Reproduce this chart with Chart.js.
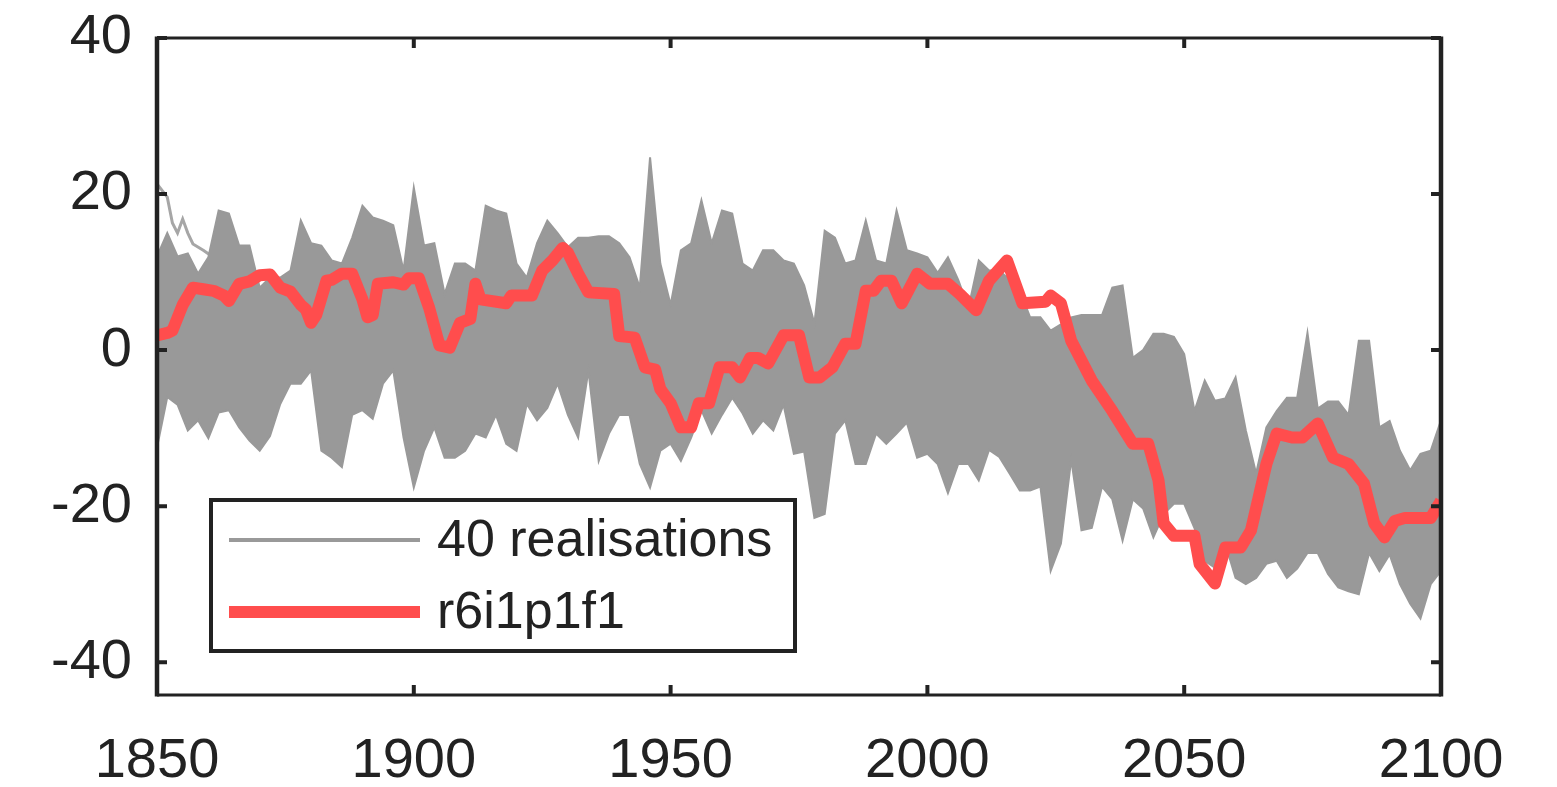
<!DOCTYPE html>
<html>
<head>
<meta charset="utf-8">
<script src="https://cdn.jsdelivr.net/npm/chart.js@4.4.1/dist/chart.umd.min.js"></script>
<style>
  html, body { margin: 0; padding: 0; background: #fff; }
  #wrap { width: 1557px; height: 787px; }
</style>
</head>
<body>
<div id="wrap"><canvas id="c" width="1557" height="787"></canvas></div>
<script>
// envelope of the 40 realisations, read every 2 years
const bandYears = [];
for (let yr = 1850; yr <= 2100; yr += 2) bandYears.push(yr);
const bandUpper = [
  12, 15, 12, 12.4, 9.8, 11.9, 17.9, 17.5, 13.4, 13.4,
  8, 9.3, 9.3, 10.2, 16.6, 13.7, 13.4, 11.5, 11.1, 14.4,
  18.5, 17, 16.6, 16, 10.2, 20.8, 13.4, 13.7, 7.2, 11.1,
  11.1, 10.2, 18.5, 17.9, 17.5, 11.1, 9.3, 13.7, 16.6, 15,
  13.2, 14.4, 14.4, 14.6, 14.6, 13.7, 11.9, 8, 24.7, 11.1,
  5.8, 12.8, 13.7, 19.2, 13.7, 17.9, 17.5, 11.1, 10.2, 12.8,
  12.8, 11.5, 11.1, 8.3, 3.4, 15.3, 14.4, 11.1, 11.5, 16.6,
  11.5, 11.1, 17.9, 12.8, 12.4, 11.9, 9.9, 11.9, 9, 5.4,
  11.5, 10.2, 10.2, 9, 7.6, 4.2, 4.2, 2.5, 3.3, 4.2,
  4.5, 4.5, 4.5, 8, 8.3, -1, 0, 2.1, 2.1, 1.7,
  -0.5, -7.8, -3.9, -6.5, -6.2, -3.5, -10.3, -15.8, -9.9, -7.8,
  -6.1, -6.1, 2.2, -7.5, -6.6, -6.6, -8.3, 1.2, 1.2, -9.9,
  -9.1, -12.9, -15.4, -13.3, -12.9, -9
];
const bandLower = [
  -12.5, -6, -7, -10.3, -9, -11.3, -8, -7.7, -9.9, -11.6,
  -12.9, -11, -6.9, -4.3, -4.3, -2.6, -12.9, -13.8, -15, -8.3,
  -7.7, -8.8, -4.3, -2.6, -11.2, -17.6, -12.9, -9.9, -13.8, -13.8,
  -12.9, -10.7, -11.2, -8.3, -12, -12.9, -6.9, -9, -7.4, -4.3,
  -8.3, -11.2, -2.6, -14.2, -10.7, -8.3, -8.3, -14.6, -17.6, -12.9,
  -12, -14.2, -11.2, -7.7, -10.7, -8.3, -6.1, -8.1, -10.7, -9,
  -10.3, -7, -13.3, -13, -21.5, -21, -10.7, -9, -14.6, -14.6,
  -10.7, -12, -10.7, -9.3, -13.8, -13.3, -14.6, -18.3, -14.6, -14.6,
  -16.7, -12.8, -13.7, -15.8, -18, -18, -17.5, -28.3, -24.8, -14,
  -23.1, -22.8, -17.5, -19.1, -24.4, -19.1, -20.3, -24, -21, -19.7,
  -19.7, -22.8, -27, -27.9, -24.8, -29.2, -30, -29.2, -27.4, -27,
  -29.2, -28, -26, -26, -28.7, -30.4, -30.9, -31.3, -26, -28.3,
  -26.2, -30, -32.5, -34.4, -30, -28.3
];

// one realisation that shows above the band at the start
const thinYears = [1850, 1852, 1853, 1854, 1855, 1856, 1857, 1859, 1861, 1863];
const thinValues = [21.3, 19.6, 16.3, 15, 16.8, 15, 13.6, 12.8, 11.9, 11.5];

// r6i1p1f1
const redYears = [
  1850, 1852, 1853, 1855, 1857, 1859, 1861, 1863, 1864, 1866,
  1868, 1870, 1872, 1874, 1876, 1878, 1879, 1880, 1881, 1883,
  1884, 1886, 1888, 1890, 1891, 1892, 1893, 1896, 1898, 1899,
  1901, 1903, 1905, 1907, 1909, 1911, 1912, 1913, 1918, 1919,
  1923, 1925, 1927, 1929, 1930, 1932, 1934, 1939, 1940, 1943,
  1945, 1947, 1948, 1950, 1952, 1954, 1955.5, 1957.5, 1959.5, 1962,
  1963.5, 1965.5, 1967, 1969, 1972, 1975, 1977, 1979, 1981.5, 1984,
  1986, 1988, 1989.5, 1991, 1993, 1995, 1998, 2000.5, 2004, 2006.3,
  2009.5, 2012, 2015.5, 2018.5, 2023, 2024, 2026, 2028, 2032, 2036,
  2040, 2043, 2045, 2046, 2048, 2052, 2053, 2056, 2058, 2061,
  2063, 2066, 2068, 2071, 2073, 2076, 2079, 2082, 2085, 2087,
  2089, 2091, 2093, 2098, 2100
];
const redValues = [
  1.9, 2.2, 2.5, 5.8, 8.0, 7.8, 7.6, 7.0, 6.3, 8.5,
  8.8, 9.6, 9.7, 8.0, 7.5, 5.8, 5.2, 3.5, 4.5, 8.9,
  9.0, 9.8, 9.8, 6.5, 4.2, 4.5, 8.5, 8.7, 8.4, 9.2,
  9.2, 5.4, 0.6, 0.3, 3.5, 4.0, 8.5, 6.5, 6.0, 7.0,
  7.0, 10.2, 11.5, 13.1, 12.5, 9.8, 7.4, 7.2, 1.8, 1.6,
  -2.2, -2.5, -5.0, -6.8, -9.9, -9.9, -6.8, -6.8, -2.2, -2.2,
  -3.5, -1.0, -1.0, -1.7, 1.9, 1.9, -3.5, -3.5, -2.2, 0.8,
  0.8, 7.6, 7.6, 8.9, 8.9, 6.0, 9.8, 8.5, 8.5, 7.2,
  5.1, 8.9, 11.5, 6.0, 6.2, 7.0, 6.0, 1.2, -3.9, -7.8,
  -12.0, -12.0, -16.7, -22.2, -23.8, -23.8, -27.4, -29.9, -25.3, -25.3,
  -23.1, -14.6, -10.7, -11.2, -11.2, -9.4, -13.8, -14.6, -17.1, -22.2,
  -24.0, -21.9, -21.5, -21.5, -19.3
];

const xTicks = [1850, 1900, 1950, 2000, 2050, 2100];
const yTicks = [-40, -20, 0, 20, 40];
const legendLabels = ['40 realisations', 'r6i1p1f1'];

const GREY = '#999999';
const RED = '#ff4d4d';
const INK = '#222222';
const FONT = '"Liberation Sans", Arial, sans-serif';

const pts = (xs, ys) => xs.map((x, i) => ({ x: x, y: ys[i] }));

// box and inward tick marks on all four sides
const frame = {
  id: 'frame',
  afterDatasetsDraw(chart) {
    const { ctx, chartArea: a, scales: { x, y } } = chart;
    ctx.save();
    ctx.strokeStyle = INK;
    ctx.lineWidth = 4;
    ctx.beginPath();
    x.ticks.forEach(t => {
      const px = x.getPixelForValue(t.value);
      ctx.moveTo(px, a.bottom); ctx.lineTo(px, a.bottom - 10);
      ctx.moveTo(px, a.top); ctx.lineTo(px, a.top + 10);
    });
    y.ticks.forEach(t => {
      const py = y.getPixelForValue(t.value);
      ctx.moveTo(a.left, py); ctx.lineTo(a.left + 10, py);
      ctx.moveTo(a.right, py); ctx.lineTo(a.right - 10, py);
    });
    ctx.stroke();
    // sides a little heavier than top and bottom, as in the picture
    ctx.lineWidth = 3;
    ctx.beginPath();
    ctx.moveTo(a.left, a.top); ctx.lineTo(a.right, a.top);
    ctx.moveTo(a.left, a.bottom); ctx.lineTo(a.right, a.bottom);
    ctx.stroke();
    ctx.lineWidth = 4.5;
    ctx.beginPath();
    ctx.moveTo(a.left, a.top - 1.5); ctx.lineTo(a.left, a.bottom + 1.5);
    ctx.moveTo(a.right, a.top - 1.5); ctx.lineTo(a.right, a.bottom + 1.5);
    ctx.stroke();
    ctx.restore();
  }
};

// boxed legend in the lower left of the plot
const boxLegend = {
  id: 'boxLegend',
  afterDraw(chart) {
    const { ctx, chartArea: a } = chart;
    const ds = chart.data.datasets;
    const bx = a.left + 54, by = a.top + 462, bw = 584, bh = 151;
    ctx.save();
    ctx.fillStyle = '#fff';
    ctx.fillRect(bx, by, bw, bh);
    ctx.strokeStyle = INK;
    ctx.lineWidth = 4;
    ctx.strokeRect(bx, by, bw, bh);
    const rows = [
      { ds: ds[1], y: by + 40 },
      { ds: ds[0], y: by + 112 }
    ];
    rows.forEach((r, i) => {
      ctx.strokeStyle = r.ds.borderColor;
      ctx.lineWidth = i === 0 ? 4 : r.ds.borderWidth;
      ctx.beginPath();
      ctx.moveTo(bx + 18, r.y);
      ctx.lineTo(bx + 209, r.y);
      ctx.stroke();
      ctx.fillStyle = INK;
      ctx.font = '52px ' + FONT;
      ctx.textBaseline = 'middle';
      ctx.fillText(legendLabels[i], bx + 226, r.y + 2);
    });
    ctx.restore();
  }
};

new Chart(document.getElementById('c'), {
  type: 'line',
  data: {
    datasets: [
      { label: legendLabels[1], data: pts(redYears, redValues), borderColor: RED,
        borderWidth: 12, borderJoinStyle: 'round', pointRadius: 0, fill: false, order: 0 },
      { label: 'upper', data: pts(bandYears, bandUpper), borderColor: GREY,
        borderWidth: 2, pointRadius: 0, fill: false, order: 1 },
      { label: 'lower', data: pts(bandYears, bandLower), borderColor: GREY,
        backgroundColor: GREY, borderWidth: 2, pointRadius: 0, fill: '-1', order: 2 },
      { label: 'thin', data: pts(thinYears, thinValues), borderColor: '#a6a6a6',
        borderWidth: 3, pointRadius: 0, fill: false, order: 3 }
    ]
  },
  options: {
    responsive: false,
    animation: false,
    devicePixelRatio: 1,
    layout: { padding: { left: 0, top: 38, right: 116, bottom: 0 } },
    plugins: { legend: { display: false }, tooltip: { enabled: false } },
    scales: {
      x: {
        type: 'linear', min: 1850, max: 2100,
        afterBuildTicks: s => { s.ticks = xTicks.map(v => ({ value: v })); },
        afterFit: s => { s.height = 92; s.paddingLeft = 0; s.paddingRight = 0; },
        grid: { display: false }, border: { display: false },
        ticks: { color: INK, font: { family: FONT, size: 56 }, padding: 25, maxRotation: 0,
                 callback: v => String(v) }
      },
      y: {
        min: -44.2, max: 40,
        afterBuildTicks: s => { s.ticks = yTicks.map(v => ({ value: v })); },
        afterFit: s => { s.width = 157; s.paddingTop = 0; s.paddingBottom = 0; },
        grid: { display: false }, border: { display: false },
        ticks: { color: INK, font: { family: FONT, size: 56 }, padding: 17 }
      }
    }
  },
  plugins: [frame, boxLegend]
});
</script>
</body>
</html>
